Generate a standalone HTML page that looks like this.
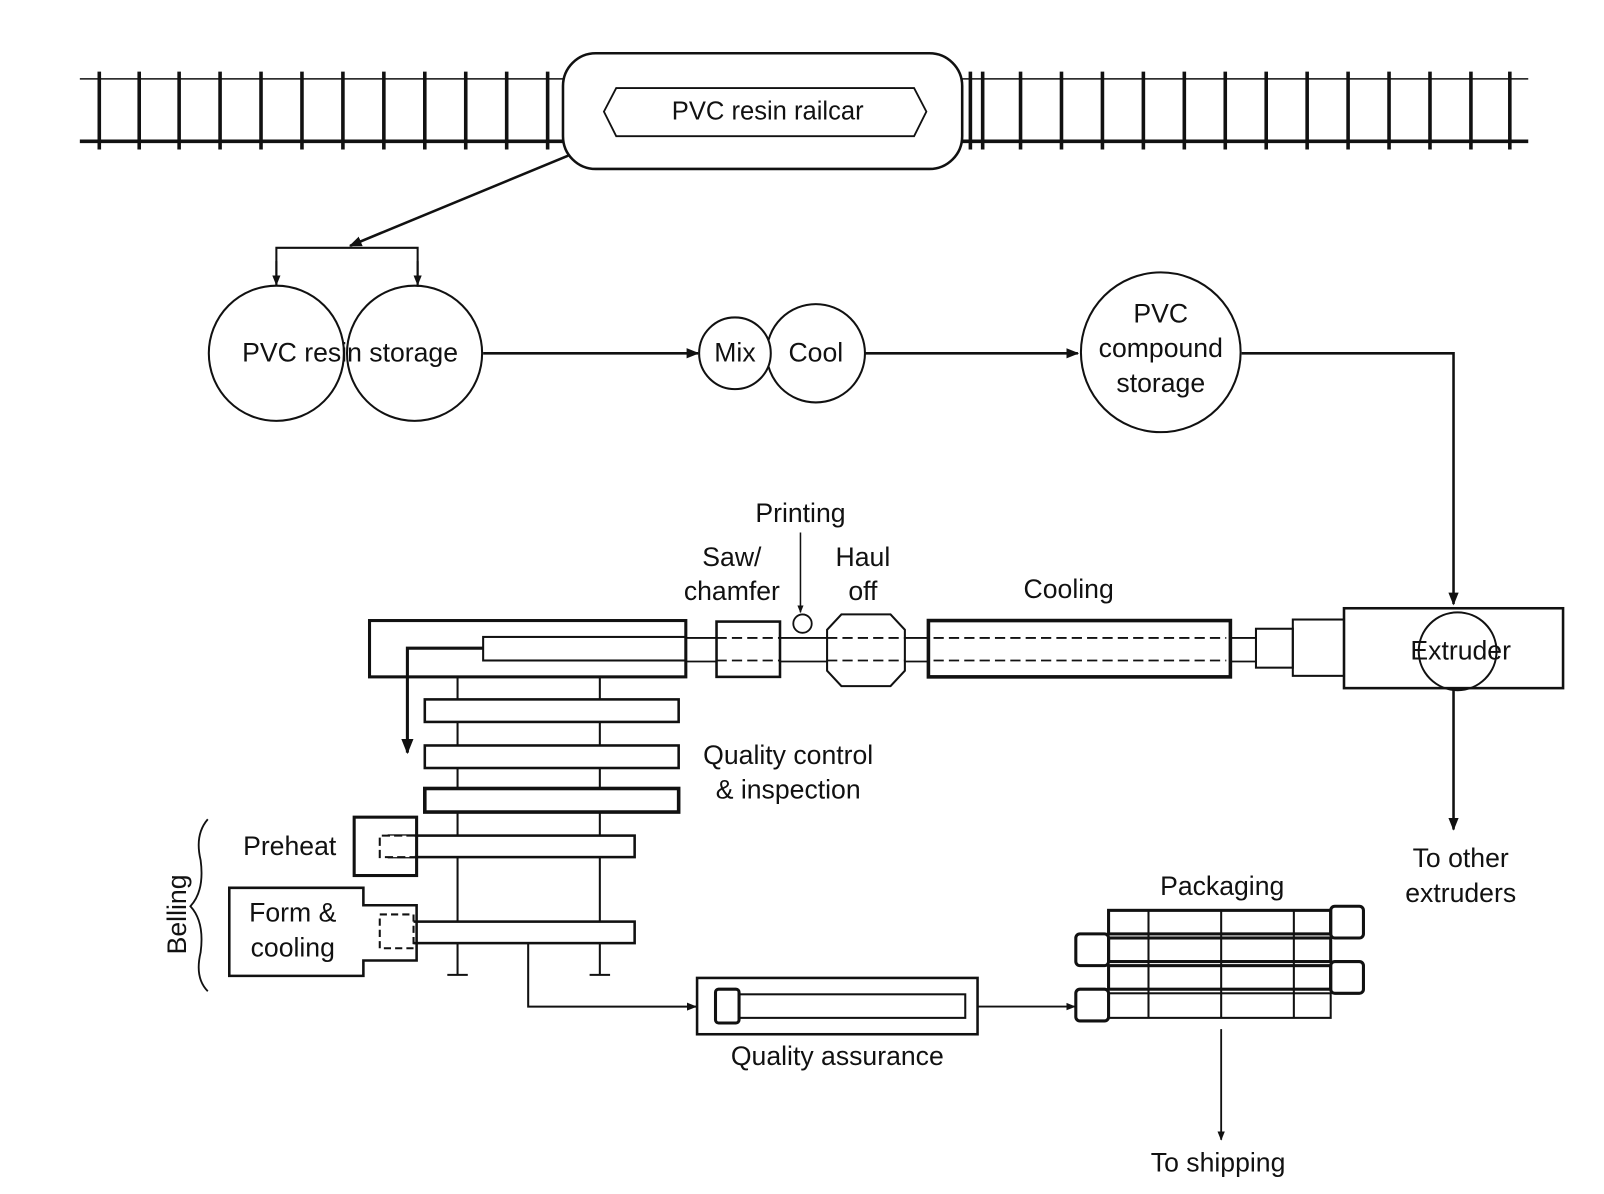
<!DOCTYPE html>
<html><head><meta charset="utf-8"><style>
html,body{margin:0;padding:0;background:#fff}
svg{display:block}
text{font-family:"Liberation Sans",sans-serif;font-size:26px;fill:#111;text-anchor:middle;dominant-baseline:middle}
</style></head><body>
<svg width="1604" height="1194" viewBox="0 0 1567 1166" preserveAspectRatio="none" xmlns="http://www.w3.org/2000/svg">
<defs>
<marker id="a" viewBox="0 0 10 10" refX="9" refY="5" markerWidth="5" markerHeight="5" orient="auto"><path d="M0,1 L10,5 L0,9z" fill="#111"/></marker>
</defs>
<g stroke="#111" fill="none" stroke-width="2.5">
<line x1="78" y1="77" x2="552" y2="77" stroke-width="1.5"/>
<line x1="940" y1="77" x2="1493" y2="77" stroke-width="1.5"/>
<line x1="78" y1="138" x2="552" y2="138" stroke-width="3.5"/>
<line x1="940" y1="138" x2="1493" y2="138" stroke-width="3.5"/>
<g stroke-width="3.5">
<line x1="97" y1="70" x2="97" y2="146"/><line x1="136" y1="70" x2="136" y2="146"/><line x1="175" y1="70" x2="175" y2="146"/><line x1="215" y1="70" x2="215" y2="146"/><line x1="255" y1="70" x2="255" y2="146"/><line x1="295" y1="70" x2="295" y2="146"/><line x1="335" y1="70" x2="335" y2="146"/><line x1="375" y1="70" x2="375" y2="146"/><line x1="415" y1="70" x2="415" y2="146"/><line x1="455" y1="70" x2="455" y2="146"/><line x1="495" y1="70" x2="495" y2="146"/><line x1="535" y1="70" x2="535" y2="146"/>
<line x1="948" y1="70" x2="948" y2="146"/><line x1="960" y1="70" x2="960" y2="146"/><line x1="997" y1="70" x2="997" y2="146"/><line x1="1037" y1="70" x2="1037" y2="146"/><line x1="1077" y1="70" x2="1077" y2="146"/><line x1="1117" y1="70" x2="1117" y2="146"/><line x1="1157" y1="70" x2="1157" y2="146"/><line x1="1197" y1="70" x2="1197" y2="146"/><line x1="1237" y1="70" x2="1237" y2="146"/><line x1="1277" y1="70" x2="1277" y2="146"/><line x1="1317" y1="70" x2="1317" y2="146"/><line x1="1357" y1="70" x2="1357" y2="146"/><line x1="1397" y1="70" x2="1397" y2="146"/><line x1="1437" y1="70" x2="1437" y2="146"/><line x1="1475" y1="70" x2="1475" y2="146"/>
</g>
<rect x="550" y="52" width="390" height="113" rx="32" fill="#fff"/>
<path d="M602,86 L893,86 L905,109 L893,133 L602,133 L590,109 Z" stroke-width="1.8"/>
<line x1="555" y1="152" x2="342" y2="240" marker-end="url(#a)"/>
<path d="M270,280 V242 H408 V280" stroke-width="2"/>
<line x1="270" y1="255" x2="270" y2="278" marker-end="url(#a)" stroke-width="2"/>
<line x1="408" y1="255" x2="408" y2="278" marker-end="url(#a)" stroke-width="2"/>
<circle cx="270" cy="345" r="66" fill="#fff" stroke-width="2"/>
<circle cx="405" cy="345" r="66" stroke-width="2"/>
<line x1="472" y1="345" x2="682" y2="345" marker-end="url(#a)"/>
<circle cx="797" cy="345" r="48" stroke-width="2"/>
<circle cx="718" cy="345" r="35" fill="#fff" stroke-width="2"/>
<line x1="845" y1="345" x2="1053" y2="345" marker-end="url(#a)"/>
<circle cx="1134" cy="344" r="78" stroke-width="2"/>
<path d="M1213,345 H1420 V590" marker-end="url(#a)"/>
<rect x="1313" y="594" width="214" height="78"/>
<circle cx="1424" cy="636" r="38" stroke-width="2"/>
<line x1="1420" y1="672" x2="1420" y2="810" marker-end="url(#a)"/>
<rect x="1263" y="605" width="50" height="55" stroke-width="2"/>
<rect x="1227" y="614" width="36" height="38" stroke-width="2"/>
<line x1="670" y1="623" x2="1227" y2="623" stroke-width="1.8"/>
<line x1="670" y1="646" x2="1227" y2="646" stroke-width="1.8"/>
<rect x="907" y="606" width="295" height="55" fill="#fff" stroke-width="3.5"/>
<line x1="912" y1="623" x2="1198" y2="623" stroke-dasharray="10 5" stroke-width="1.8"/>
<line x1="912" y1="645" x2="1198" y2="645" stroke-dasharray="10 5" stroke-width="1.8"/>
<path d="M822,600 L870,600 L884,615 L884,655 L870,670 L822,670 L808,655 L808,615 Z" fill="#fff" stroke-width="2"/>
<line x1="808" y1="623" x2="884" y2="623" stroke-dasharray="10 5" stroke-width="1.8"/>
<line x1="808" y1="645" x2="884" y2="645" stroke-dasharray="10 5" stroke-width="1.8"/>
<circle cx="784" cy="609" r="9" stroke-width="1.8"/>
<line x1="782" y1="520" x2="782" y2="598" marker-end="url(#a)" stroke-width="1.5"/>
<rect x="700" y="607" width="62" height="54" fill="#fff"/>
<line x1="700" y1="623" x2="762" y2="623" stroke-dasharray="10 5" stroke-width="1.8"/>
<line x1="700" y1="645" x2="762" y2="645" stroke-dasharray="10 5" stroke-width="1.8"/>
<rect x="361" y="606" width="309" height="55" fill="#fff" stroke-width="3"/>
<rect x="472" y="622" width="198" height="23" stroke-width="2"/>
<path d="M472,633 H398 V735" marker-end="url(#a)" stroke-width="3"/>
<line x1="447" y1="661" x2="447" y2="952" stroke-width="2"/>
<line x1="586" y1="661" x2="586" y2="952" stroke-width="2"/>
<line x1="437" y1="952" x2="457" y2="952" stroke-width="2"/>
<line x1="576" y1="952" x2="596" y2="952" stroke-width="2"/>
<rect x="415" y="683" width="248" height="22" fill="#fff"/>
<rect x="415" y="728" width="248" height="22" fill="#fff"/>
<rect x="415" y="770" width="248" height="23" fill="#fff" stroke-width="3.5"/>
<rect x="380" y="816" width="240" height="21" fill="#fff"/>
<rect x="380" y="900" width="240" height="21" fill="#fff"/>
<rect x="346" y="798" width="61" height="57" fill="none" stroke-width="3"/>
<path d="M405,816 H371 V837 H405" stroke-dasharray="8 4" stroke-width="2" fill="#fff"/>
<path d="M224,867 H355 V884 H407 V938 H355 V953 H224 Z" stroke-width="2.5"/>
<rect x="371" y="893" width="33" height="33" stroke-dasharray="7 4" stroke-width="2" fill="#fff"/>
<path d="M203,800 Q190,815 196,840 Q200,870 186,885 Q200,900 196,930 Q190,955 203,968" stroke-width="1.8"/>
<path d="M516,921 V983 H680" marker-end="url(#a)" stroke-width="2"/>
<rect x="681" y="955" width="274" height="55" stroke-width="2.5"/>
<rect x="722" y="971" width="221" height="23" stroke-width="2"/>
<rect x="699" y="966" width="23" height="33" stroke-width="3" rx="3"/>
<line x1="955" y1="983" x2="1050" y2="983" marker-end="url(#a)" stroke-width="1.8"/>
<rect x="1083" y="889" width="217" height="23" stroke-width="3"/>
<rect x="1083" y="916" width="217" height="23" stroke-width="3"/>
<rect x="1083" y="943" width="217" height="23" stroke-width="3"/>
<rect x="1083" y="970" width="217" height="24" stroke-width="2"/>
<rect x="1300" y="885" width="32" height="31" rx="4" stroke-width="3"/>
<rect x="1300" y="939" width="32" height="31" rx="4" stroke-width="3"/>
<rect x="1051" y="912" width="32" height="31" rx="4" stroke-width="3"/>
<rect x="1051" y="966" width="32" height="31" rx="4" stroke-width="3"/>
<line x1="1122" y1="889" x2="1122" y2="994" stroke-width="2"/>
<line x1="1193" y1="889" x2="1193" y2="994" stroke-width="2"/>
<line x1="1264" y1="889" x2="1264" y2="994" stroke-width="2"/>
<line x1="1193" y1="1005" x2="1193" y2="1113" marker-end="url(#a)" stroke-width="1.8"/>
</g>
<text x="750" y="110" style="font-size:25px">PVC resin railcar</text>
<text x="342" y="346">PVC resin storage</text>
<text x="718" y="346">Mix</text>
<text x="797" y="346">Cool</text>
<text x="1134" y="308">PVC</text>
<text x="1134" y="342">compound</text>
<text x="1134" y="376">storage</text>
<text x="1427" y="637">Extruder</text>
<text x="1427" y="840">To other</text>
<text x="1427" y="874">extruders</text>
<text x="782" y="503">Printing</text>
<text x="715" y="546">Saw/</text>
<text x="715" y="579">chamfer</text>
<text x="843" y="546">Haul</text>
<text x="843" y="579">off</text>
<text x="1044" y="577">Cooling</text>
<text x="770" y="739">Quality control</text>
<text x="770" y="773">&amp; inspection</text>
<text x="283" y="828">Preheat</text>
<text x="286" y="893">Form &amp;</text>
<text x="286" y="927">cooling</text>
<text x="175" y="893" transform="rotate(-90 175 893)">Belling</text>
<text x="818" y="1033">Quality assurance</text>
<text x="1194" y="867">Packaging</text>
<text x="1190" y="1137">To shipping</text>
</svg>
</body></html>
